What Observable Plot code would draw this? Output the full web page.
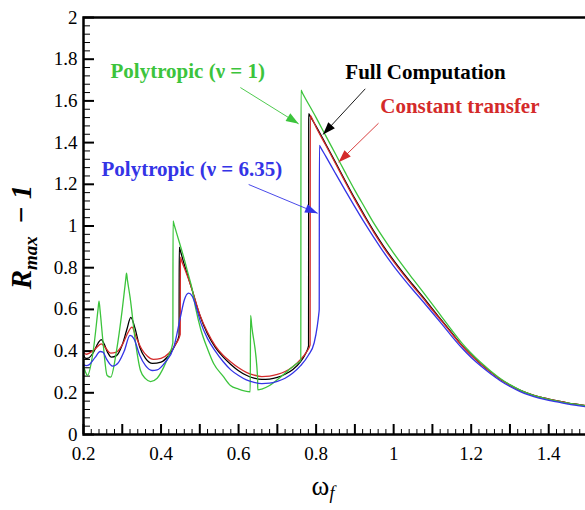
<!DOCTYPE html>
<html lang="en"><head><meta charset="utf-8">
<script src="https://cdn.jsdelivr.net/npm/d3@7"></script>
<script src="https://cdn.jsdelivr.net/npm/@observablehq/plot@0.6"></script>
<style>
body{margin:0;background:#fff;}
svg{display:block}
</style>
</head><body>
<div id="chart"></div>
<script>
// ---- data ----
const NU = "\u03BD", OMEGA = "\u03C9", MINUS = "\u2212";
const seriesNames = ["Full Computation", "Constant transfer", "Polytropic (" + NU + " = 1)", "Polytropic (" + NU + " = 6.35)"];
const seriesColors = ["#000000", "#d42a2a", "#3cc43c", "#3434e6"];

const fullX = [0.200,0.206,0.212,0.225,0.238,0.246,0.253,0.262,0.272,0.285,0.300,0.312,0.322,0.332,0.345,0.360,0.378,0.400,0.420,0.437,0.4465,0.447,0.450,0.460,0.470,0.480,0.490,0.500,0.520,0.540,0.560,0.580,0.600,0.620,0.640,0.660,0.680,0.700,0.720,0.740,0.760,0.772,0.7805,0.781,0.784,0.800,0.825,0.850,0.875,0.900,0.925,0.950,0.975,1.000,1.025,1.050,1.075,1.100,1.125,1.150,1.175,1.200,1.225,1.250,1.275,1.300,1.325,1.350,1.375,1.400,1.425,1.450,1.475,1.500];
const fullY = [0.380,0.365,0.366,0.392,0.440,0.455,0.435,0.395,0.371,0.378,0.430,0.505,0.562,0.515,0.420,0.365,0.341,0.347,0.380,0.430,0.475,0.899,0.880,0.815,0.755,0.695,0.630,0.572,0.482,0.418,0.372,0.336,0.306,0.284,0.270,0.264,0.266,0.274,0.289,0.312,0.350,0.385,0.425,1.539,1.529,1.478,1.392,1.305,1.217,1.131,1.050,0.972,0.900,0.835,0.774,0.717,0.661,0.602,0.545,0.487,0.430,0.381,0.338,0.300,0.265,0.237,0.213,0.195,0.181,0.170,0.160,0.151,0.144,0.137];

const constX = [0.200,0.207,0.215,0.230,0.246,0.255,0.270,0.285,0.300,0.315,0.325,0.335,0.350,0.365,0.380,0.400,0.420,0.440,0.4495,0.450,0.453,0.460,0.470,0.480,0.500,0.520,0.540,0.560,0.580,0.600,0.620,0.640,0.660,0.680,0.700,0.720,0.740,0.760,0.775,0.7845,0.785,0.788,0.800,0.825,0.850,0.875,0.900,0.925,0.950,0.975,1.000,1.025,1.050,1.075,1.100,1.125,1.150,1.175,1.200,1.225,1.250,1.275,1.300,1.325,1.350,1.375,1.400,1.425,1.450,1.475,1.500];
const constY = [0.395,0.385,0.390,0.410,0.435,0.420,0.390,0.395,0.430,0.490,0.515,0.470,0.410,0.375,0.360,0.365,0.390,0.440,0.480,0.851,0.833,0.800,0.750,0.695,0.575,0.490,0.425,0.380,0.348,0.320,0.298,0.285,0.278,0.280,0.288,0.302,0.325,0.360,0.395,0.430,1.531,1.521,1.474,1.387,1.300,1.211,1.125,1.044,0.966,0.894,0.829,0.768,0.711,0.655,0.597,0.541,0.484,0.428,0.380,0.338,0.300,0.265,0.237,0.213,0.195,0.181,0.170,0.160,0.151,0.144,0.138];

const poly1X = [0.200,0.205,0.210,0.225,0.2375,0.240,0.2425,0.250,0.261,0.270,0.285,0.300,0.309,0.311,0.313,0.320,0.335,0.347,0.360,0.373,0.390,0.407,0.420,0.4305,0.431,0.434,0.447,0.460,0.470,0.480,0.490,0.502,0.520,0.536,0.560,0.579,0.600,0.6300,0.631,0.634,0.649,0.6495,0.660,0.680,0.708,0.730,0.750,0.7605,0.761,0.765,0.800,0.825,0.850,0.875,0.900,0.925,0.950,0.975,1.000,1.025,1.050,1.075,1.100,1.125,1.150,1.175,1.200,1.225,1.250,1.275,1.300,1.325,1.350,1.375,1.400,1.425,1.450,1.475,1.500];
const poly1Y = [0.330,0.300,0.283,0.400,0.600,0.640,0.600,0.450,0.283,0.275,0.400,0.600,0.745,0.774,0.745,0.660,0.430,0.307,0.268,0.254,0.270,0.323,0.380,0.440,1.024,1.005,0.923,0.840,0.770,0.700,0.600,0.507,0.410,0.339,0.280,0.235,0.218,0.205,0.571,0.520,0.275,0.214,0.218,0.235,0.275,0.310,0.340,0.355,1.651,1.637,1.520,1.432,1.345,1.257,1.171,1.090,1.010,0.938,0.870,0.806,0.745,0.685,0.624,0.562,0.500,0.441,0.390,0.345,0.305,0.269,0.239,0.214,0.195,0.180,0.169,0.159,0.150,0.143,0.136];

const poly635X = [0.200,0.207,0.215,0.230,0.243,0.250,0.260,0.275,0.290,0.305,0.320,0.330,0.345,0.360,0.377,0.390,0.410,0.433,0.450,0.460,0.471,0.480,0.490,0.502,0.520,0.540,0.560,0.580,0.600,0.620,0.640,0.660,0.680,0.700,0.720,0.740,0.760,0.780,0.795,0.803,0.807,0.808,0.8085,0.8115,0.825,0.850,0.875,0.900,0.925,0.950,0.975,1.000,1.025,1.050,1.075,1.100,1.125,1.150,1.175,1.200,1.225,1.250,1.275,1.300,1.325,1.350,1.375,1.400,1.425,1.450,1.475,1.500];
const poly635Y = [0.335,0.330,0.335,0.370,0.398,0.395,0.360,0.328,0.345,0.400,0.475,0.460,0.380,0.330,0.307,0.310,0.345,0.419,0.563,0.645,0.678,0.665,0.615,0.539,0.460,0.400,0.350,0.310,0.283,0.262,0.250,0.244,0.246,0.255,0.270,0.295,0.330,0.380,0.440,0.520,0.580,0.600,1.387,1.377,1.334,1.252,1.171,1.092,1.015,0.942,0.872,0.808,0.749,0.693,0.639,0.584,0.528,0.471,0.417,0.369,0.328,0.291,0.258,0.230,0.207,0.189,0.175,0.164,0.155,0.146,0.139,0.132];

// tick values and labels
const xTickValues = [0.2, 0.4, 0.6, 0.8, 1.0, 1.2, 1.4];
const xTickLabels = ["0.2", "0.4", "0.6", "0.8", "1", "1.2", "1.4"];
const yTickValues = [0, 0.2, 0.4, 0.6, 0.8, 1.0, 1.2, 1.4, 1.6, 1.8, 2.0];
const yTickLabels = ["0", "0.2", "0.4", "0.6", "0.8", "1", "1.2", "1.4", "1.6", "1.8", "2"];

// annotation labels (data coords of text start / baseline) and arrows
const annSeries = [seriesNames[2], seriesNames[0], seriesNames[1], seriesNames[3]];
const annX = [0.2696, 0.8753, 0.9655, 0.2464];
const annY = [1.712, 1.703, 1.540, 1.2375];
const arrowX1 = [0.6046, 0.9268, 0.961, 0.626];
const arrowY1 = [1.664, 1.658, 1.493, 1.199];
const arrowX2 = [0.7549, 0.8178, 0.858, 0.804];
const arrowY2 = [1.490, 1.439, 1.306, 1.061];

// ---- build tables ----
const seriesX = [fullX, constX, poly1X, poly635X];
const seriesY = [fullY, constY, poly1Y, poly635Y];
const rows = [];
seriesNames.forEach((s, k) => seriesX[k].forEach((x, i) => rows.push({series: s, x, y: seriesY[k][i]})));
const anns = annSeries.map((s, i) => ({series: s, x: annX[i], y: annY[i]}));
const arrows = annSeries.map((s, i) => ({series: s, x1: arrowX1[i], y1: arrowY1[i], x2: arrowX2[i], y2: arrowY2[i]}));

const xMajor = d3.range(2, 16).map(d => d / 10);
const xMinor = d3.range(10, 76).map(d => d / 50).filter(d => Math.abs(d * 10 - Math.round(d * 10)) > 1e-6);
const yMajor = d3.range(0, 11).map(d => d / 5);
const yMinor = d3.range(0, 51).map(d => d / 25).filter(d => Math.abs(d * 5 - Math.round(d * 5)) > 1e-6);
const xLab = new Map(xTickValues.map((v, i) => [v, xTickLabels[i]]));
const yLab = new Map(yTickValues.map((v, i) => [v, yTickLabels[i]]));

const W = 585, H = 510, mL = 83, mR = -2, mT = 17, mB = 76;
const plotW = W - mL - mR, plotH = H - mT - mB;
const FONT = "Liberation Serif";

const chart = Plot.plot({
  width: W, height: H,
  marginLeft: mL, marginRight: mR, marginTop: mT, marginBottom: mB,
  x: {domain: [0.2, 1.5]},
  y: {domain: [0, 2]},
  color: {domain: seriesNames, range: seriesColors},
  style: {fontFamily: FONT, fontSize: "19px"},
  marks: [
    Plot.tickX(xMinor, {x: d => d, insetTop: plotH - 5, stroke: "black", strokeWidth: 1}),
    Plot.tickX(xMajor, {x: d => d, insetTop: plotH - 10, stroke: "black", strokeWidth: 2}),
    Plot.tickY(yMinor, {y: d => d, insetRight: plotW - 7, stroke: "black", strokeWidth: 1}),
    Plot.tickY(yMajor, {y: d => d, insetRight: plotW - 11, stroke: "black", strokeWidth: 2}),
    Plot.axisX({ticks: xTickValues, tickFormat: d => xLab.get(d), tickSize: 0, tickPadding: 12, label: null}),
    Plot.axisY({ticks: yTickValues, tickFormat: d => yLab.get(d), tickSize: 0, tickPadding: 6, label: null}),
    Plot.line(rows, {x: "x", y: "y", z: "series", stroke: "series", strokeWidth: 1.3, curve: "monotone-x"}),
    Plot.link(arrows, {x1: "x1", y1: "y1", x2: "x2", y2: "y2", stroke: "series", strokeWidth: 0.9}),
    Plot.text(anns, {x: "x", y: "y", text: "series", fill: "series", textAnchor: "start", lineAnchor: "bottom", fontWeight: "bold", fontSize: 21}),
    Plot.frame({stroke: "black", strokeWidth: 2.5})
  ]
});
document.getElementById("chart").appendChild(chart);

// ---- post: filled arrowheads and axis titles ----
const svg = d3.select(chart.tagName.toLowerCase() === "svg" ? chart : chart.querySelector("svg"));
const defs = svg.append("defs");
svg.selectAll('g[aria-label="link"] path').each(function (d, i) {
  const col = this.getAttribute("stroke") || d3.select(this.parentNode).attr("stroke") || "black";
  const id = "ahead" + i;
  defs.append("marker").attr("id", id)
    .attr("viewBox", "0 0 14 10").attr("refX", 14).attr("refY", 5)
    .attr("markerWidth", 14).attr("markerHeight", 9)
    .attr("markerUnits", "userSpaceOnUse").attr("orient", "auto")
    .append("path").attr("d", "M0,0L14,5L0,10Z").attr("fill", col);
  d3.select(this).attr("marker-end", `url(#${id})`);
});

const yt = svg.append("text")
  .attr("transform", "translate(31,237) rotate(-90)")
  .attr("text-anchor", "middle")
  .attr("font-family", FONT)
  .attr("font-weight", "bold").attr("font-style", "italic")
  .attr("font-size", 29).attr("fill", "black");
yt.append("tspan").text("R");
yt.append("tspan").attr("font-size", 19).attr("dy", 6).text("max");
yt.append("tspan").attr("dy", -6).attr("dx", 5).text(" " + MINUS + " 1");

const xt = svg.append("text")
  .attr("x", 323).attr("y", 495)
  .attr("font-family", FONT)
  .attr("font-size", 27).attr("fill", "black");
xt.append("tspan").text(OMEGA);
xt.append("tspan").attr("font-size", 18).attr("font-style", "italic").attr("dy", 4).text("f");
</script>
</body></html>
